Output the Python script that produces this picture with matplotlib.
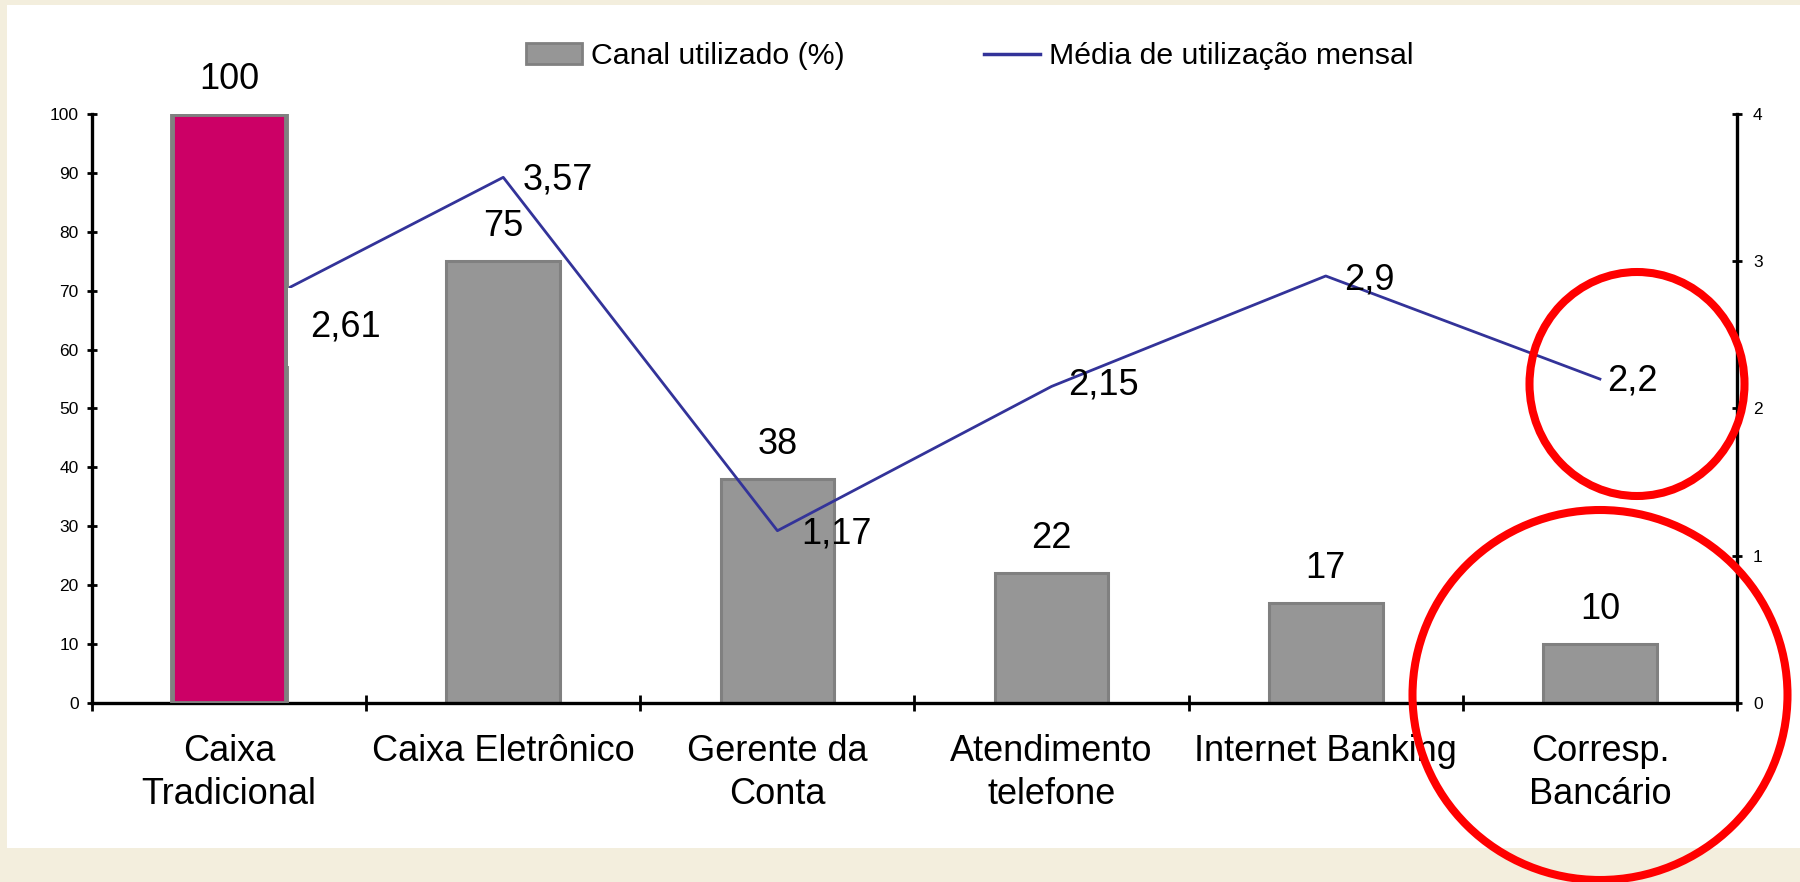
import matplotlib
matplotlib.use('Agg')
import matplotlib.pyplot as plt
from matplotlib.patches import Rectangle, Ellipse, Patch
from matplotlib.lines import Line2D

plt.rcParams['font.family'] = ['Liberation Sans', 'DejaVu Sans']

categorias = ['Caixa\nTradicional', 'Caixa Eletrônico', 'Gerente da\nConta',
              'Atendimento\ntelefone', 'Internet Banking', 'Corresp.\nBancário']
canal = [100, 75, 38, 22, 17, 10]            # Canal utilizado (%)
media = [2.61, 3.57, 1.17, 2.15, 2.9, 2.2]   # Média de utilização mensal
media_txt = [str(v).replace('.', ',') for v in media]

# deslocamento dos rótulos da linha (pontos)
off_x = [58, 14, 17, 12, 13, 5]
off_y = [-13, -9, -9, -6, -10, -8]

W, H = 1800, 882
fig = plt.figure(figsize=(W / 100, H / 100), dpi=100)
fig.patch.set_facecolor('#f3eedd')
fig.add_artist(Rectangle((7 / W, 34 / H), 1 - 7 / W, 843 / H, transform=fig.transFigure,
                         facecolor='white', edgecolor='none', zorder=0))

ax = fig.add_axes([92 / W, 179 / H, 1645 / W, 589 / H])
ax.set_facecolor('none')
ax2 = ax.twinx()

n = len(canal)
x = [i + 0.5 for i in range(n)]
ax.set_xlim(0, n)
ax.set_ylim(0, 100)
ax2.set_ylim(0, 4)

cores = ['#cc0066'] + ['#969696'] * (n - 1)
bars = ax.bar(x, canal, width=0.415, color=cores, edgecolor='#808080', linewidth=2.2, zorder=2)
bars[0].set_zorder(4)
bars[0].set_linewidth(3.5)

ax.plot(x, media, color='#333399', linewidth=2.0, zorder=3, transform=ax2.transData)

for xi, v in zip(x, canal):
    ax.annotate(str(v), (xi, v), xytext=(0, 18), textcoords='offset points',
                ha='center', va='baseline', fontsize=26, zorder=6)

for i, (xi, v, t) in enumerate(zip(x, media, media_txt)):
    kw = {}
    if i == 0:
        kw['bbox'] = dict(boxstyle='square,pad=0.6', facecolor='white', edgecolor='none')
    ax.annotate(t, (xi, v), xycoords=ax2.transData, xytext=(off_x[i], off_y[i]),
                textcoords='offset points', ha='left', va='baseline', fontsize=26,
                zorder=6, **kw)

# eixos
for a in (ax, ax2):
    a.spines['top'].set_visible(False)
    for s in ('left', 'right', 'bottom'):
        a.spines[s].set_linewidth(2.4)
ax.spines['right'].set_visible(False)
ax2.spines['left'].set_visible(False)
ax2.spines['bottom'].set_visible(False)

ax.set_yticks(range(0, 101, 10))
ax.tick_params(axis='y', direction='inout', length=7, width=2, labelsize=12.5, pad=6)
ax2.set_yticks(range(0, 5))
ax2.tick_params(axis='y', direction='inout', length=7, width=2, labelsize=12.5, pad=8)

ax.set_xticks(range(n + 1))
ax.set_xticklabels([])
ax.tick_params(axis='x', which='major', direction='inout', length=11, width=2)
ax.set_xticks(x, minor=True)
ax.set_xticklabels(categorias, minor=True, fontsize=26, linespacing=1.32)
ax.tick_params(axis='x', which='minor', length=0, pad=22)

# legenda
handles = [Patch(facecolor='#969696', edgecolor='#808080', linewidth=2),
           Line2D([], [], color='#333399', linewidth=2.5)]
fig.legend(handles, ['Canal utilizado (%)', 'Média de utilização mensal'],
           loc='center', bbox_to_anchor=(0.539, 0.936), ncol=2, frameon=False,
           fontsize=21.8, handlelength=1.85, handleheight=0.7, handletextpad=0.3,
           columnspacing=4.6)

# destaques em vermelho
fig.add_artist(Ellipse((1637 / W, 1 - 384 / H), 215 / W, 224 / H, transform=fig.transFigure,
                       fill=False, edgecolor='#ff0000', linewidth=5.8, zorder=10))
fig.add_artist(Ellipse((1600 / W, 1 - 695 / H), 375 / W, 370 / H, transform=fig.transFigure,
                       fill=False, edgecolor='#ff0000', linewidth=5.8, zorder=10))

fig.savefig('out.png', dpi=100, facecolor=fig.get_facecolor())
